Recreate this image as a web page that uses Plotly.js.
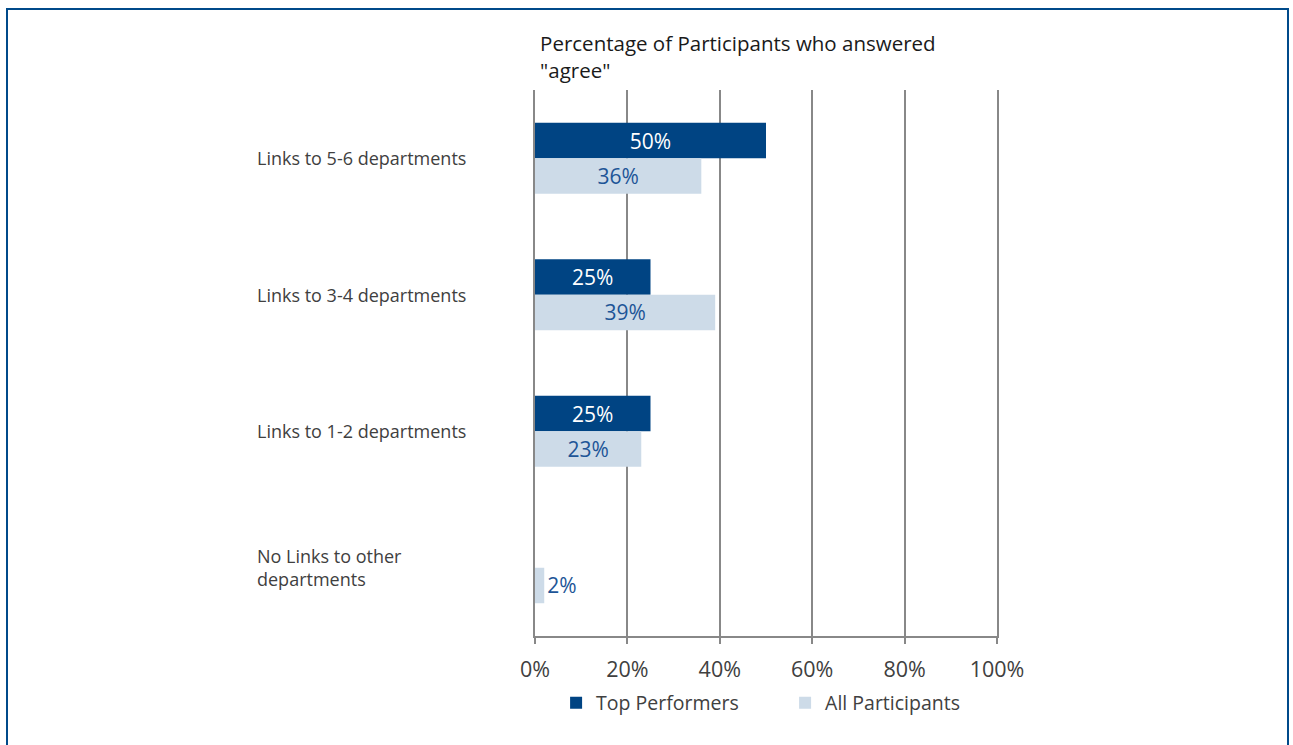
<!DOCTYPE html>
<html>
<head>
<meta charset="utf-8">
<script src="https://cdn.plot.ly/plotly-3.0.1.min.js"></script>
<style>
  html, body { margin: 0; padding: 0; background: #fff; }
  #chart { width: 1293px; height: 745px; }
  #frame { position: absolute; left: 6px; top: 8px; width: 1283px; height: 760px;
           border: 2.5px solid #004a8a; pointer-events: none; box-sizing: border-box; }
</style>
</head>
<body>
<div id="chart"></div>
<div id="frame"></div>
<script>
const categories = ["Links to 5-6 departments", "Links to 3-4 departments", "Links to 1-2 departments", "No Links to other<br>departments"];
const topPerformers = [50, 25, 25, 0];
const allParticipants = [36, 39, 23, 2];
const tickVals = [0, 20, 40, 60, 80, 100];
const tickLabels = ["0%", "20%", "40%", "60%", "80%", "100%"];
const seriesNames = ["Top Performers", "All Participants"];

const FONT = "Open Sans, Noto Sans, sans-serif";
function labels(vals) { return vals.map(v => v > 0 ? v + "%" : ""); }
function positions(vals) { return vals.map(v => v < 8 ? "outside" : "inside"); }

const traces = [
  {
    type: "bar", orientation: "h", name: seriesNames[0],
    y: categories, x: topPerformers,
    marker: { color: "#004483" },
    text: labels(topPerformers), textposition: positions(topPerformers),
    insidetextanchor: "middle", constraintext: "none",
    textfont: { color: "#ffffff", size: 21, family: FONT },
    hoverinfo: "x+name"
  },
  {
    type: "bar", orientation: "h", name: seriesNames[1],
    y: categories, x: allParticipants,
    marker: { color: "#cddbe8" },
    text: labels(allParticipants), textposition: positions(allParticipants),
    insidetextanchor: "middle", constraintext: "none",
    textfont: { color: "#1d5597", size: 21, family: FONT },
    cliponaxis: false,
    hoverinfo: "x+name"
  }
];

const annotations = categories.map(c => ({
  xref: "paper", yref: "y", x: -0.606, y: c, xanchor: "left", yanchor: "middle",
  text: c, showarrow: false, align: "left",
  font: { size: 18, color: "#404040", family: FONT }
}));

const layout = {
  width: 1293, height: 745,
  margin: { l: 535, r: 296, t: 90, b: 109 },
  paper_bgcolor: "#ffffff", plot_bgcolor: "#ffffff",
  barmode: "group", bargap: 0.48, bargroupgap: 0,
  font: { family: FONT, color: "#404040" },
  title: {
    text: "Percentage of Participants who answered<br>\"agree\"",
    x: 0.011, xref: "paper", xanchor: "left",
    y: 0.931, yref: "container", yanchor: "middle",
    font: { size: 20.5, color: "#1a1a1a", family: FONT }
  },
  xaxis: {
    range: [0, 100], tickvals: tickVals, ticktext: tickLabels,
    showgrid: true, gridcolor: "#888888", gridwidth: 2,
    zeroline: false,
    showline: true, linecolor: "#888888", linewidth: 2,
    ticks: "outside", ticklen: 6, tickwidth: 2, tickcolor: "#888888",
    tickfont: { size: 21.5, color: "#404040", family: FONT },
    ticklabelstandoff: 7,
    fixedrange: true
  },
  yaxis: {
    type: "category", autorange: "reversed",
    showticklabels: false, showgrid: false, zeroline: false,
    showline: true, mirror: true, linecolor: "#888888", linewidth: 2,
    ticks: "", fixedrange: true
  },
  annotations: annotations,
  showlegend: true,
  legend: {
    orientation: "h", xref: "paper", x: 1.037, xanchor: "right",
    yref: "paper", y: -0.123, yanchor: "middle",
    font: { size: 19.5, color: "#404040", family: FONT },
    itemwidth: 30, traceorder: "normal",
    entrywidth: 184, entrywidthmode: "pixels"
  },
  hovermode: false
};

Plotly.newPlot("chart", traces, layout, { displayModeBar: false, staticPlot: true });
</script>
</body>
</html>
